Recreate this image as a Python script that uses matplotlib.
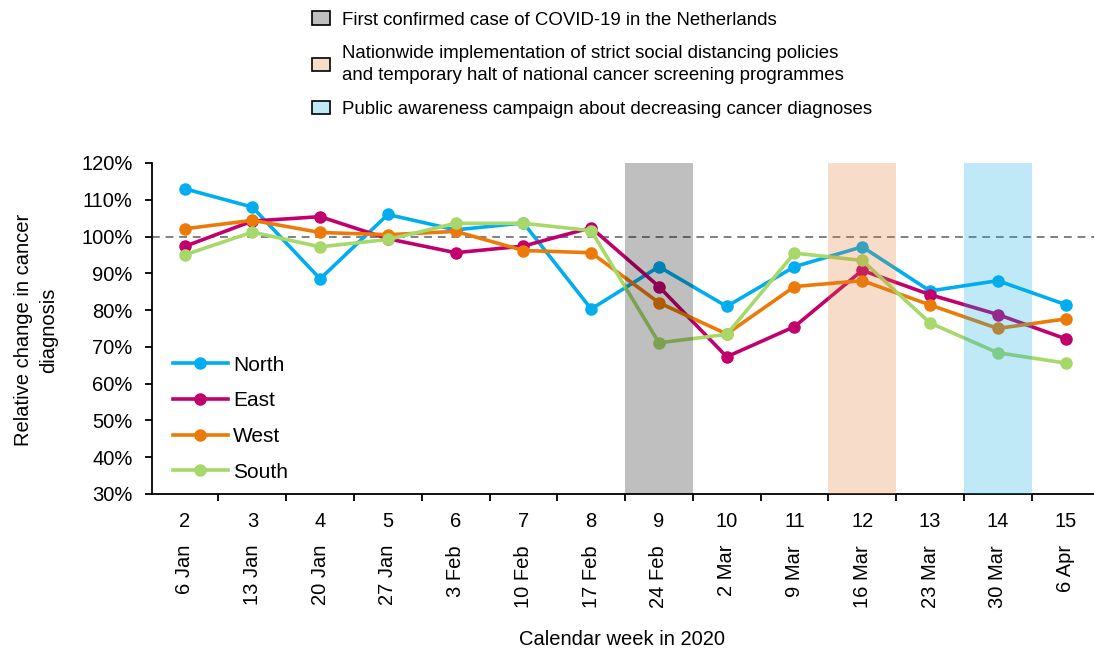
import matplotlib
matplotlib.use("Agg")
import matplotlib.pyplot as plt
from matplotlib.patches import Patch
from matplotlib.colors import to_rgba
from matplotlib.ticker import FixedLocator, PercentFormatter

plt.rcParams['font.family'] = ['Liberation Sans', 'DejaVu Sans']

# data
weeks = [2, 3, 4, 5, 6, 7, 8, 9, 10, 11, 12, 13, 14, 15]
dates = ['6 Jan', '13 Jan', '20 Jan', '27 Jan', '3 Feb', '10 Feb', '17 Feb',
         '24 Feb', '2 Mar', '9 Mar', '16 Mar', '23 Mar', '30 Mar', '6 Apr']
north = [113.0, 108.0, 88.5, 106.0, 101.8, 103.7, 80.3, 91.8, 81.0, 91.8, 97.2, 85.2, 88.0, 81.5]
east = [97.3, 104.2, 105.4, 99.4, 95.6, 97.4, 102.4, 86.4, 67.3, 75.5, 90.8, 84.2, 78.8, 72.2]
west = [102.1, 104.4, 101.1, 100.5, 101.4, 96.2, 95.6, 82.0, 73.5, 86.4, 88.0, 81.4, 75.0, 77.6]
south = [95.0, 101.2, 97.2, 99.2, 103.6, 103.6, 101.6, 71.1, 73.4, 95.5, 93.5, 76.5, 68.4, 65.6]

series = {'North': north, 'East': east, 'West': west, 'South': south}
colors = {'North': '#00AEEF', 'East': '#C1006E', 'West': '#EC7A08', 'South': '#A6D86A'}

# highlighted weeks and their meaning
event_weeks = [9, 12, 14]
event_colors = ['#000000', '#E37B2B', '#03ABE3']
event_labels = ['First confirmed case of COVID-19 in the Netherlands',
                'Nationwide implementation of strict social distancing policies\n'
                'and temporary halt of national cancer screening programmes',
                'Public awareness campaign about decreasing cancer diagnoses']

fig = plt.figure(figsize=(10.94, 6.59), dpi=100)
ax = fig.add_axes([0.139, 0.2504, 0.861, 0.5023])

for name, vals in series.items():
    ax.plot(weeks, vals, color=colors[name], lw=2.6, marker='o', ms=8, label=name)

ax.axhline(100, color='#808080', lw=1.4, ls=(0, (4, 3)), zorder=1)

# event bands sit on top of the lines, as in the original
for w, c in zip(event_weeks, event_colors):
    ax.axvspan(w - 0.5, w + 0.5, color=c, alpha=0.25, lw=0, zorder=5)

ax.set_xlim(1.52, 15.42)
ax.set_ylim(30, 120)
ax.set_yticks(range(30, 121, 10))
ax.yaxis.set_major_formatter(PercentFormatter(decimals=0))

ax.set_xticks(weeks)
ax.set_xticklabels([str(w) for w in weeks])
ax.xaxis.set_minor_locator(FixedLocator([w + 0.5 for w in [1] + weeks]))
ax.tick_params(axis='x', which='major', length=0, pad=13, labelsize=14.5)
ax.tick_params(axis='x', which='minor', length=5, width=1.3, direction='out')
ax.tick_params(axis='y', length=5, width=1.3, pad=9, labelsize=14.5)

for w, d in zip(weeks, dates):
    ax.text(w, -0.154, d, rotation=90, ha='center', va='top', fontsize=14.5,
            transform=ax.get_xaxis_transform())

for side in ['top', 'right']:
    ax.spines[side].set_visible(False)
for side in ['left', 'bottom']:
    ax.spines[side].set_linewidth(1.3)

leg = ax.legend(loc='upper left', bbox_to_anchor=(0.022, 0.418), frameon=False,
                fontsize=15, handlelength=2.65, handletextpad=0.25,
                labelspacing=0.8, borderpad=0, borderaxespad=0)

fig.text(0.033, 0.499, 'Relative change in cancer\ndiagnosis', rotation=90,
         ha='center', va='center', fontsize=14.5, multialignment='center',
         linespacing=1.35)
fig.text(0.569, 0.029, 'Calendar week in 2020', ha='center', va='center', fontsize=14.5)

handles = [Patch(facecolor=to_rgba(c, 0.25), edgecolor='black', lw=1.2) for c in event_colors]
top = fig.legend(handles, event_labels, loc='upper left', bbox_to_anchor=(0.285, 0.983),
                 frameon=False, fontsize=13.4, handlelength=0.97, handleheight=0.75,
                 handletextpad=0.65, labelspacing=0.9, borderpad=0, borderaxespad=0)
for t in top.get_texts():
    t.set_linespacing(1.35)

fig.savefig('out.png', dpi=100)
